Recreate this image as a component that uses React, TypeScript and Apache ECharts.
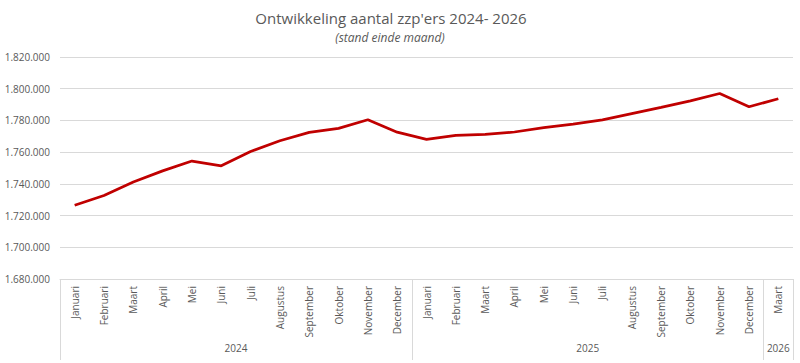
import React, { useEffect, useRef } from "react";
import * as echarts from "echarts";

const months = [
  "Januari", "Februari", "Maart", "April", "Mei", "Juni", "Juli", "Augustus",
  "September", "Oktober", "November", "December",
  "Januari", "Februari", "Maart", "April", "Mei", "Juni", "Juli", "Augustus",
  "September", "Oktober", "November", "December",
  "Maart",
];
const values = [
  1726500, 1732700, 1741200, 1748200, 1754400, 1751400, 1760400, 1767200,
  1772500, 1775000, 1780400, 1772600,
  1768100, 1770600, 1771200, 1772700, 1775500, 1777600, 1780400, 1784300,
  1788200, 1792300, 1797000, 1788600,
  1793700,
];
const years = ["2024", "2025", "2026"];
const yearSizes = [12, 12, 1];
const yMin = 1680000;
const yMax = 1820000;
const yStep = 20000;

const FONT = "'Open Sans', sans-serif";
const TXT = "#595959";
const GRID = "#d9d9d9";

export default function App() {
  const ref = useRef<HTMLDivElement>(null);
  useEffect(() => {
    if (!ref.current) return;
    const chart = echarts.init(ref.current, undefined, { renderer: "svg" });
    const bounds: number[] = [0];
    const centers: number[] = [];
    let acc = 0;
    yearSizes.forEach((s) => {
      centers.push(acc + s / 2);
      acc += s;
      bounds.push(acc);
    });
    const fmt = (v: number) =>
      String(Math.round(v)).replace(/\B(?=(\d{3})+(?!\d))/g, ".");
    chart.setOption({
      animation: false,
      title: [
        {
          text: "Ontwikkeling aantal zzp'ers 2024- 2026",
          left: 391,
          top: 9,
          padding: 0,
          textAlign: "center",
          textStyle: { fontFamily: FONT, fontSize: 15, lineHeight: 18, fontWeight: "normal", color: TXT },
        },
        {
          text: "(stand einde maand)",
          left: 390,
          top: 30,
          padding: 0,
          textAlign: "center",
          textStyle: { fontFamily: FONT, fontSize: 12, lineHeight: 14, fontStyle: "italic", fontWeight: "normal", color: TXT },
        },
      ],
      grid: { left: 60, right: 7, top: 57, bottom: 84, containLabel: false },
      xAxis: [
        {
          type: "category",
          data: months,
          boundaryGap: true,
          axisLine: { show: true, lineStyle: { color: GRID } },
          axisTick: { show: false },
          axisLabel: {
            interval: 0,
            rotate: 90,
            margin: 7,
            fontFamily: FONT,
            fontSize: 10,
            color: TXT,
          },
          splitLine: { show: false },
        },
        {
          type: "value",
          min: 0,
          max: acc,
          position: "bottom",
          axisLine: { show: false },
          splitLine: { show: false },
          axisTick: {
            show: true,
            customValues: bounds,
            length: 81,
            lineStyle: { color: GRID },
          },
          axisLabel: {
            customValues: centers,
            margin: 64,
            fontFamily: FONT,
            fontSize: 10,
            color: TXT,
            formatter: (v: number) => {
              const i = centers.findIndex((c) => Math.abs(c - v) < 1e-6);
              return i >= 0 ? years[i] : "";
            },
          },
        },
      ],
      yAxis: {
        type: "value",
        min: yMin,
        max: yMax,
        interval: yStep,
        axisLine: { show: false },
        axisTick: { show: false },
        splitLine: { lineStyle: { color: GRID } },
        axisLabel: {
          margin: 10,
          fontFamily: FONT,
          fontSize: 10,
          color: TXT,
          formatter: fmt,
        },
      },
      series: [
        {
          type: "line",
          data: values,
          xAxisIndex: 0,
          showSymbol: false,
          symbol: "none",
          lineStyle: { color: "#c00000", width: 2.75 },
        },
      ],
    });
    return () => chart.dispose();
  }, []);
  return <div ref={ref} style={{ width: 800, height: 363, position: "absolute", left: 0, top: 0 }} />;
}
